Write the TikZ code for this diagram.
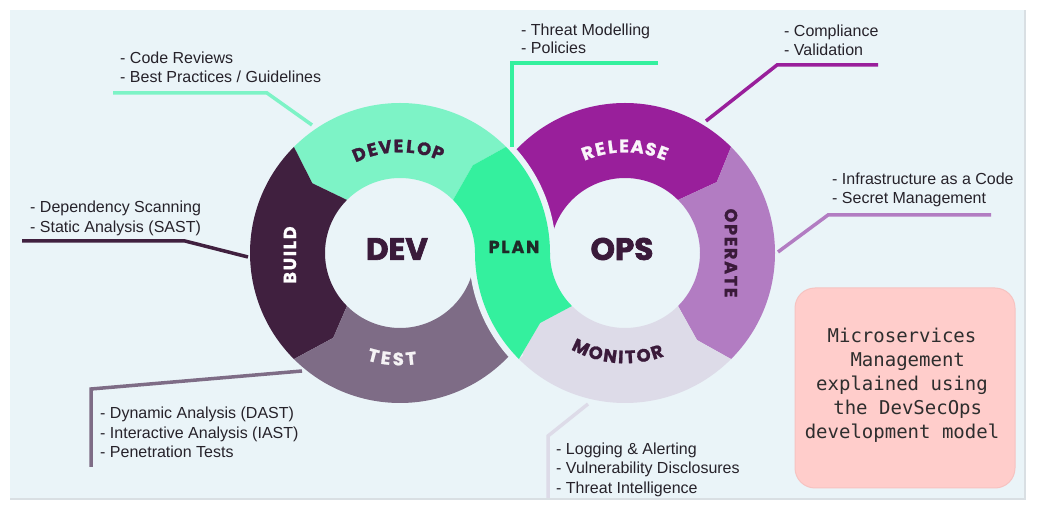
\documentclass[tikz,border=0pt]{standalone}
\usepackage{fontspec}
\setmainfont{Liberation Sans}
\newfontfamily\segfont{Poppins}[LetterSpace=10, BoldFeatures={FakeBold=1.2}]
\newfontfamily\letfont{Poppins}[BoldFeatures={FakeBold=1.2}]
\newfontfamily\heavyfont{Poppins}[BoldFeatures={FakeBold=2.2}]
\newfontfamily\monofnt{DejaVu Sans Mono}
\usetikzlibrary{calc}
\definecolor{bgc}{HTML}{EAF4F8}
\definecolor{edgec}{HTML}{D9DFE3}
\definecolor{cdevelop}{HTML}{7DF3C6}
\definecolor{cplan}{HTML}{34F09E}
\definecolor{cbuild}{HTML}{40203F}
\definecolor{ctest}{HTML}{7E6C86}
\definecolor{crelease}{HTML}{991F9B}
\definecolor{coperate}{HTML}{B27CC2}
\definecolor{cmonitor}{HTML}{DDDBE8}
\definecolor{darkplum}{HTML}{3A1A3A}
\definecolor{plantext}{HTML}{1F2A28}
\definecolor{txtc}{HTML}{26222A}
\definecolor{pinkc}{HTML}{FFCDCB}
\definecolor{pinkb}{HTML}{F6C3C1}
\definecolor{monotext}{HTML}{2E2E2E}
\begin{document}
\begin{tikzpicture}[x=1pt,y=1pt,
  callout/.style={anchor=base west, inner sep=0pt, font=\fontsize{16}{19}\selectfont, text=txtc},
  lead/.style={line width=3.5pt},
  biglbl/.style={inner sep=0pt, font=\heavyfont\bfseries\fontsize{31}{31}\selectfont, text=darkplum},
  seglbl/.style={inner sep=0pt, font=\segfont\bfseries\fontsize{17.5}{17.5}\selectfont},
  letlbl/.style={inner sep=0pt, font=\letfont\bfseries\fontsize{18}{18}\selectfont},
  gapline/.style={draw=bgc, line width=12pt},
  mono/.style={anchor=base, inner sep=0pt, font=\monofnt\fontsize{19}{24}\selectfont, text=monotext}
]
\useasboundingbox (0,0) rectangle (1045,517);
\fill[white] (0,0) rectangle (1045,517);
\fill[bgc] (10,18) rectangle (1025,507);
\draw[edgec, line width=1.2pt] (10,18) -- (1025,18) -- (1025,507);

% ---- left ring (DEV)
\begin{scope}[shift={(400,264)}]
  \fill[cdevelop] (45:150) arc[start angle=45,end angle=135,radius=150] -- (141.5:112) -- (135:75)
     arc[start angle=135,end angle=45,radius=75] -- (50.3:114) -- cycle;
  \fill[cbuild] (135:150) arc[start angle=135,end angle=225,radius=150] -- (231.8:108) -- (225:75)
     arc[start angle=225,end angle=135,radius=75] -- (141.5:112) -- cycle;
  \fill[ctest] (225:150) arc[start angle=225,end angle=360,radius=150] -- (0:75)
     arc[start angle=360,end angle=225,radius=75] -- (231.8:108) -- cycle;
\end{scope}

% ---- right ring (OPS)
\begin{scope}[shift={(625,264)}]
  \fill[crelease] (180:150) arc[start angle=180,end angle=45,radius=150] -- (37.7:116) -- (45:75)
     arc[start angle=45,end angle=180,radius=75] -- cycle;
  \fill[coperate] (45:150) arc[start angle=45,end angle=-45,radius=150] -- (-50.4:113) -- (-45:75)
     arc[start angle=-45,end angle=45,radius=75] -- (37.7:116) -- cycle;
  \fill[cmonitor] (-45:150) arc[start angle=-45,end angle=-135,radius=150] -- (-140.5:110) -- (-135:75)
     arc[start angle=-135,end angle=-45,radius=75] -- (-50.4:113) -- cycle;
  \draw[gapline] (180:150) arc[start angle=180,end angle=225,radius=150];
\end{scope}
\begin{scope}[shift={(400,264)}]
  \draw[gapline] (0:150) arc[start angle=0,end angle=45,radius=150];
\end{scope}

% ---- PLAN strand (crossing)
\fill[cplan] ($(400,264)+(45:75)$) arc[start angle=45,end angle=0,radius=75]
   arc[start angle=180,end angle=225,radius=150] -- ($(625,264)+(219.5:110)$) -- ($(625,264)+(225:75)$)
   arc[start angle=225,end angle=180,radius=75]
   arc[start angle=0,end angle=45,radius=150] -- ($(400,264)+(50.3:114)$) -- cycle;

% ---- ring labels
\node[biglbl] (dev) at (397,268) {DEV};
\node[biglbl] (ops) at (622,268) {OPS};
\node[seglbl, rotate=90, text=white] (build) at (290,262) {BUILD};
\node[seglbl, rotate=-90, text=darkplum] (operate) at (731,264) {OPERATE};
\node[seglbl, text=plantext] (plan) at (514,270) {PLAN};
\begin{scope}[shift={(400,264)}]
  \foreach \ch/\a [count=\i] in {D/112.4, E/105, V/97.9, E/90.8, L/84.3, O/76.9, P/69.2}
    \node[letlbl, rotate=\a-90, text=darkplum] (develop\i) at (\a:107) {\ch};
  \foreach \ch/\a [count=\i] in {T/255.5, E/262.3, S/269.1, T/276}
    \node[letlbl, rotate=\a-270, text=white!92!ctest] (test\i) at (\a:106) {\ch};
\end{scope}
\begin{scope}[shift={(625,264)}]
  \foreach \ch/\a [count=\i] in {R/110.4, E/103.4, L/96.9, E/90.5, A/83.3, S/76, E/69.3}
    \node[letlbl, rotate=\a-90, text=white!95!crelease] (release\i) at (\a:107) {\ch};
  \foreach \ch/\a [count=\i] in {M/245, O/253.7, N/261.8, I/267.7, T/272.9, O/280.3, R/287.9}
    \node[letlbl, rotate=\a-270, text=darkplum] (monitor\i) at (\a:104) {\ch};
\end{scope}

% ---- callout texts
\node[callout] (cr1) at (120,453) {- Code Reviews};
\node[callout] (cr2) at (120,434) {- Best Practices / Guidelines};
\node[callout] (bs1) at (30,304) {- Dependency Scanning};
\node[callout] (bs2) at (30,284) {- Static Analysis (SAST)};
\node[callout] (ts1) at (100,98) {- Dynamic Analysis (DAST)};
\node[callout] (ts2) at (100,78) {- Interactive Analysis (IAST)};
\node[callout] (ts3) at (100,59) {- Penetration Tests};
\node[callout] (pl1) at (521,481) {- Threat Modelling};
\node[callout] (pl2) at (521,463) {- Policies};
\node[callout] (rl1) at (784,480) {- Compliance};
\node[callout] (rl2) at (784,461) {- Validation};
\node[callout] (op1) at (832,332) {- Infrastructure as a Code};
\node[callout] (op2) at (832,313) {- Secret Management};
\node[callout] (mn1) at (556,62) {- Logging \& Alerting};
\node[callout] (mn2) at (556,43) {- Vulnerability Disclosures};
\node[callout] (mn3) at (556,23) {- Threat Intelligence};

% ---- callout leader lines
\coordinate (dA) at (113,424); \coordinate (dB) at (267,424); \coordinate (dC) at (312,392);
\draw[lead, cdevelop] (dA) -- (dB) -- (dC);
\coordinate (bA) at (22,276); \coordinate (bB) at (185,276); \coordinate (bC) at (248,260);
\draw[lead, cbuild] (bA) -- (bB) -- (bC);
\coordinate (tA) at (302,146); \coordinate (tB) at (91,128); \coordinate (tC) at (91,50);
\draw[lead, ctest] (tA) -- (tB) -- (tC);
\coordinate (pA) at (658,454); \coordinate (pB) at (512,454); \coordinate (pC) at (512,370);
\draw[lead, cplan] (pA) -- (pB) -- (pC);
\coordinate (rA) at (878,452); \coordinate (rB) at (777,452); \coordinate (rC) at (706,396);
\draw[lead, crelease] (rA) -- (rB) -- (rC);
\coordinate (oA) at (991,302); \coordinate (oB) at (828,302); \coordinate (oC) at (778,265);
\draw[lead, coperate] (oA) -- (oB) -- (oC);
\coordinate (mA) at (588,113); \coordinate (mB) at (548,81); \coordinate (mC) at (548,19);
\draw[lead, cmonitor] (mA) -- (mB) -- (mC);

% ---- pink note
\node[draw=pinkb, line width=1pt, fill=pinkc, rounded corners=20pt, minimum width=220pt, minimum height=200pt, inner sep=0pt] (note) at (905,129) {};
\node[mono] (nt1) at (902,174) {Microservices};
\node[mono] (nt2) at (902,150) {\ Management};
\node[mono] (nt3) at (902,126) {explained using};
\node[mono] (nt4) at (902,102) {\ the DevSecOps};
\node[mono] (nt5) at (902,78) {development model};
\end{tikzpicture}
\end{document}
